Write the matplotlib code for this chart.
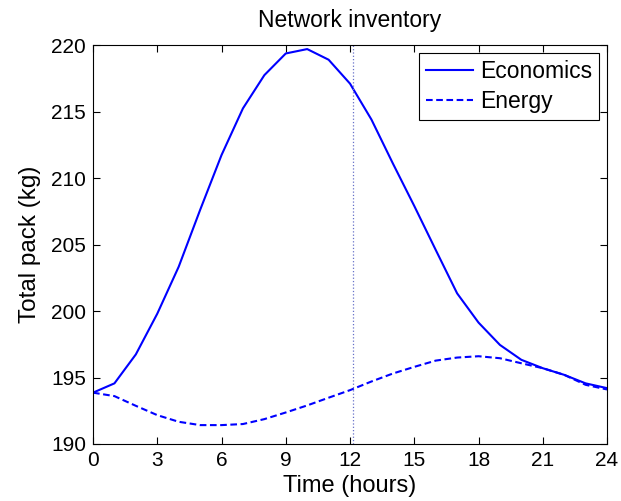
import numpy as np
import matplotlib
matplotlib.use("Agg")
import matplotlib.pyplot as plt

plt.rcParams['font.family'] = ['Liberation Sans', 'DejaVu Sans']

hours = list(range(25))
economics = [193.86, 194.56, 196.74, 199.8, 203.33, 207.6, 211.73, 215.24, 217.74, 219.37,
             219.7, 218.9, 217.1, 214.4, 211.1, 207.9, 204.6, 201.33, 199.13, 197.45,
             196.33, 195.7, 195.2, 194.56, 194.2]
energy = [193.86, 193.6, 192.87, 192.17, 191.67, 191.42, 191.42, 191.5, 191.87, 192.37,
          192.9, 193.48, 194.05, 194.7, 195.3, 195.8, 196.27, 196.5, 196.6, 196.45,
          196.07, 195.7, 195.2, 194.45, 194.1]
marker_time = 12.15
x_ticks = [0, 3, 6, 9, 12, 15, 18, 21, 24]
y_ticks = [190, 195, 200, 205, 210, 215, 220]

fig = plt.figure(figsize=(6.21, 5.01), dpi=100)
ax = fig.add_axes([0.1498, 0.1138, 0.8277, 0.7962])

ax.plot(hours, economics, color='#0000ff', lw=1.5, label='Economics')
ax.plot(hours, energy, color='#0000ff', lw=1.5, ls=(0, (3.2, 1.7)), label='Energy')
ax.axvline(marker_time, color='#6670c8', lw=0.9, ls=':')

ax.set_xlim(0, 24)
ax.set_ylim(190, 220)
ax.set_xticks(x_ticks)
ax.set_yticks(y_ticks)
ax.tick_params(direction='in', length=5, width=0.8, top=True, right=True, labelsize=15, pad=5)
for s in ax.spines.values():
    s.set_linewidth(0.8)

ax.set_xlabel('Time (hours)', fontsize=17, labelpad=4)
ax.set_ylabel('Total pack (kg)', fontsize=17.5, labelpad=7)
ax.set_title('Network inventory', fontsize=16.5, pad=13)

leg = ax.legend(loc='upper right', fontsize=16.5, fancybox=False, framealpha=1,
                edgecolor='black', handlelength=2.05, borderaxespad=0.35,
                labelspacing=0.3, handletextpad=0.3, borderpad=0.3)
leg.get_frame().set_linewidth(0.8)

fig.savefig('out.png', dpi=100)
